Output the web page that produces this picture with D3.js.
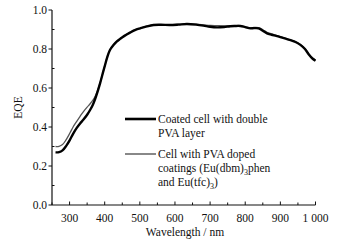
<!DOCTYPE html>
<html>
<head>
<meta charset="utf-8">
<script src="https://cdn.jsdelivr.net/npm/d3@7"></script>
<style>
  body { margin: 0; background: #fff; }
  svg text { font-family: "Liberation Serif", "Times New Roman", serif; fill: #111; }
</style>
</head>
<body>
<div id="chart"></div>
<script>
// wavelength (nm) and EQE readings
const coatedWl = [260, 270, 280, 290, 301, 310, 320, 330, 339, 350, 358, 366, 373, 380, 387, 394, 401, 408, 415, 425, 434, 444, 455, 472, 486, 501, 520, 539, 560, 586, 610, 634, 660, 681, 700, 720, 740, 757, 770, 786, 800, 815, 825, 838, 850, 862, 875, 888, 900, 915, 929, 943, 957, 970, 981, 992, 1000];
const coatedEqe = [0.270, 0.271, 0.280, 0.302, 0.334, 0.365, 0.394, 0.418, 0.437, 0.463, 0.486, 0.513, 0.545, 0.583, 0.625, 0.672, 0.718, 0.762, 0.795, 0.820, 0.838, 0.852, 0.866, 0.884, 0.897, 0.906, 0.916, 0.923, 0.924, 0.923, 0.925, 0.928, 0.925, 0.920, 0.914, 0.911, 0.913, 0.917, 0.918, 0.918, 0.912, 0.906, 0.907, 0.906, 0.894, 0.880, 0.873, 0.867, 0.861, 0.853, 0.845, 0.836, 0.821, 0.800, 0.772, 0.750, 0.740];

const dopedWl = [260, 270, 280, 290, 301, 310, 320, 330, 339, 350, 358, 366, 373, 380, 387, 394, 401, 408, 415, 425, 434, 444, 455, 472, 486, 501, 520, 539, 560, 586, 610, 634, 660, 681, 700, 720, 740, 757, 770, 786, 800, 815, 825, 838, 850, 862, 875, 888, 900, 915, 929, 943, 957, 970, 981, 992, 1000];
const dopedEqe = [0.300, 0.301, 0.310, 0.334, 0.369, 0.400, 0.428, 0.455, 0.478, 0.502, 0.518, 0.536, 0.558, 0.589, 0.627, 0.673, 0.719, 0.763, 0.796, 0.821, 0.839, 0.853, 0.867, 0.885, 0.898, 0.907, 0.917, 0.924, 0.925, 0.925, 0.927, 0.929, 0.927, 0.924, 0.921, 0.920, 0.919, 0.920, 0.920, 0.920, 0.914, 0.909, 0.911, 0.910, 0.899, 0.886, 0.878, 0.870, 0.863, 0.855, 0.847, 0.838, 0.823, 0.802, 0.774, 0.752, 0.742];

const xTicks = [300, 400, 500, 600, 700, 800, 900, 1000];
const xTickLabels = ["300", "400", "500", "600", "700", "800", "900", "1 000"];
const yTicks = [0.0, 0.2, 0.4, 0.6, 0.8, 1.0];

const width = 355, height = 242;
const svg = d3.select("#chart").append("svg")
  .attr("width", width)
  .attr("height", height);

const x = d3.scaleLinear().domain([250, 1000]).range([52, 315.5]);
const y = d3.scaleLinear().domain([0, 1]).range([205, 10]);

// axes
const xAxis = svg.append("g").attr("transform", `translate(0,${y(0)})`);
xAxis.append("line")
  .attr("x1", x(250)).attr("x2", x(1000))
  .attr("stroke", "#111").attr("stroke-width", 1.2);
xAxis.selectAll(".minor")
  .data(d3.range(250, 1001, 50))
  .join("line")
  .attr("x1", d => x(d)).attr("x2", d => x(d))
  .attr("y1", 0).attr("y2", d => (d % 100 === 0 ? -3.5 : -2.5))
  .attr("stroke", "#111").attr("stroke-width", 1);
xAxis.selectAll("text")
  .data(xTicks)
  .join("text")
  .attr("x", d => x(d))
  .attr("y", 17)
  .attr("text-anchor", "middle")
  .style("font-size", "11.5px")
  .text((d, i) => xTickLabels[i]);

const yAxis = svg.append("g").attr("transform", `translate(${x(250)},0)`);
yAxis.append("line")
  .attr("y1", y(0)).attr("y2", y(1))
  .attr("stroke", "#111").attr("stroke-width", 1.2);
yAxis.selectAll(".minor")
  .data(d3.range(0.1, 1, 0.2))
  .join("line")
  .attr("y1", d => y(d)).attr("y2", d => y(d))
  .attr("x1", 0).attr("x2", 2.5)
  .attr("stroke", "#111").attr("stroke-width", 1);
yAxis.selectAll(".major")
  .data(yTicks)
  .join("line")
  .attr("y1", d => y(d)).attr("y2", d => y(d))
  .attr("x1", -3.5).attr("x2", 0)
  .attr("stroke", "#111").attr("stroke-width", 1);
yAxis.selectAll("text")
  .data(yTicks)
  .join("text")
  .attr("x", -5)
  .attr("y", d => y(d) + 4)
  .attr("text-anchor", "end")
  .style("font-size", "11.5px")
  .text(d => d.toFixed(1));

// axis titles
svg.append("text")
  .attr("transform", `translate(22,${y(0.5)}) rotate(-90)`)
  .attr("text-anchor", "middle")
  .style("font-size", "11.5px")
  .text("EQE");
svg.append("text")
  .attr("x", 185).attr("y", 236)
  .attr("text-anchor", "middle")
  .style("font-size", "11.5px")
  .text("Wavelength / nm");

// curves
const line = d3.line()
  .x(d => x(d[0]))
  .y(d => y(d[1]))
  .curve(d3.curveCatmullRom.alpha(0.5));

svg.append("path")
  .datum(dopedWl.map((w, i) => [w, dopedEqe[i]]))
  .attr("d", line)
  .attr("fill", "none")
  .attr("stroke", "#555")
  .attr("stroke-width", 1.3);

svg.append("path")
  .datum(coatedWl.map((w, i) => [w, coatedEqe[i]]))
  .attr("d", line)
  .attr("fill", "none")
  .attr("stroke", "#000")
  .attr("stroke-width", 2.4);

// legend
const legend = svg.append("g");
legend.append("line")
  .attr("x1", 125).attr("x2", 156).attr("y1", 119).attr("y2", 119)
  .attr("stroke", "#000").attr("stroke-width", 2.6);
legend.append("line")
  .attr("x1", 125).attr("x2", 156).attr("y1", 154).attr("y2", 154)
  .attr("stroke", "#555").attr("stroke-width", 1.4);

const legendText = legend.append("g").style("font-size", "11.5px");
legendText.append("text").attr("x", 158).attr("y", 123).text("Coated cell with double");
legendText.append("text").attr("x", 158).attr("y", 137).text("PVA layer");
legendText.append("text").attr("x", 158).attr("y", 158).text("Cell with PVA doped");

const l2 = legendText.append("text").attr("x", 158).attr("y", 172);
l2.append("tspan").text("coatings (Eu(dbm)");
l2.append("tspan").attr("dy", 3).style("font-size", "8px").text("3");
l2.append("tspan").attr("dy", -3).text("phen");

const l3 = legendText.append("text").attr("x", 158).attr("y", 186);
l3.append("tspan").text("and Eu(tfc)");
l3.append("tspan").attr("dy", 3).style("font-size", "8px").text("3");
l3.append("tspan").attr("dy", -3).text(")");
</script>
</body>
</html>
